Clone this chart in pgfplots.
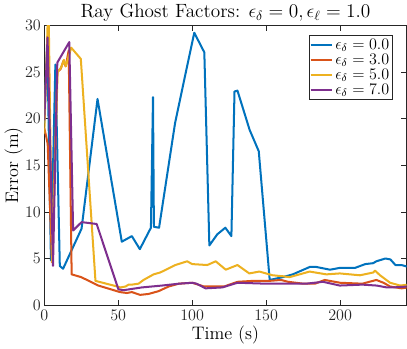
\documentclass[border=0pt]{standalone}
\usepackage{pgfplots}
\pgfplotsset{compat=1.18}
\definecolor{c1}{HTML}{0072BD}
\definecolor{c2}{HTML}{D95319}
\definecolor{c3}{HTML}{EDB120}
\definecolor{c4}{HTML}{7E2F8E}
\definecolor{axc}{rgb}{0.15,0.15,0.15}
\begin{document}
\begin{tikzpicture}
\begin{axis}[
  scale only axis,
  width=270pt, height=208.5pt,
  xmin=0, xmax=245, ymin=0, ymax=30,
  xtick={0,50,100,150,200}, ytick={0,5,10,15,20,25,30},
  tick align=inside, tick pos=both,
  major tick length=4pt,
  axis line style={axc, line width=0.5pt},
  tick style={axc, line width=0.5pt},
  ticklabel style={font=\fontsize{11.8}{13}\selectfont, text=axc},
  yticklabel style={xshift=1pt},
  xlabel={\fontsize{13.5}{15}\selectfont Time (s)},
  ylabel={\fontsize{13.5}{15}\selectfont Error (m)},
  xlabel style={yshift=3pt},
  ylabel style={yshift=-5pt},
  title={\fontsize{14.3}{16}\selectfont Ray Ghost Factors: $\epsilon_\delta = 0, \epsilon_\ell = 1.0$},
  title style={yshift=-7pt},
  legend style={at={(rel axis cs:0.962,0.965)}, anchor=north east, font=\fontsize{11.5}{13}\selectfont, draw=axc, line width=0.5pt, inner sep=0.5pt, row sep=-2pt},
  legend cell align=left,
  legend image code/.code={\draw[#1, line width=1.5pt] (0cm,0cm) -- (0.55cm,0cm);},
  every axis plot/.append style={line width=1.5pt, line join=round},
  clip=true,
]
\addplot[c1] coordinates {
(0,19.5) (2,28.3) (4.5,4.8) (7.5,25.8) (10.5,4.2) (12.7,3.9) (25.2,8.2) (36,22.1)
(52.4,6.8) (59.2,7.4) (64.6,6.0) (72.1,8.3) (73.5,22.3) (74.1,8.4) (77.6,8.3)
(88.4,19.5) (95.2,24.6) (101.4,29.2) (108.2,27.1) (111.6,6.4) (117,7.6) (122.4,8.3)
(126.5,7.4) (128.6,22.9) (130.6,23.0) (138.8,18.8) (145,16.5) (152.4,2.7) (161.2,3.0)
(168,3.3) (179.6,4.1) (183.7,4.1) (193.2,3.8) (200,4.0) (210.2,4.0) (217,4.4)
(222.4,4.5) (224.5,4.7) (230.6,5.0) (234,4.9) (237.4,4.3) (241.5,4.3) (246,4.1)
};
\addlegendentry{$\epsilon_\delta = 0.0$}
\addplot[c2] coordinates {
(0,19) (2.3,17.3) (5.2,4.6) (8.8,25.0) (11,25.3) (13,26.2) (14.5,25.6) (16.5,27.3)
(18.5,3.3) (25,3.0) (36.5,2.1) (51.2,1.4) (55.8,1.3) (59.2,1.4) (64.8,1.1) (70.5,1.2)
(77.3,1.5) (84.1,2.0) (91,2.3) (100,2.4) (108,2.0) (121.6,2.0) (130.6,2.5) (140.8,2.6)
(152.2,2.6) (160,2.7) (165,2.5) (175,2.3) (183,2.3) (189.6,2.7) (200,2.4) (215,2.3)
(224.5,2.7) (229.3,2.4) (233.8,2.0) (241.5,1.8) (246,1.9)
};
\addlegendentry{$\epsilon_\delta = 3.0$}
\addplot[c3] coordinates {
(0,18.4) (2.8,33) (5.3,4.6) (9,25.0) (11.5,25.5) (13.3,26.3) (14.5,25.6) (18.2,27.6)
(24.7,26.4) (34.6,2.6) (49.3,2.0) (51.5,1.9) (55,2.0) (57,2.2) (59.2,2.2) (63.7,2.3)
(67.1,2.7) (73.9,3.3) (78.4,3.5) (88.6,4.3) (96.6,4.7) (100,4.4) (110.2,4.3) (115.9,4.7)
(122.7,3.8) (130.6,4.3) (138.6,3.4) (145.4,3.6) (154.4,3.2) (161.2,3.1) (165.8,3.0)
(179.4,3.6) (190.7,3.3) (199.8,3.4) (213.4,3.2) (222.4,3.5) (223.6,3.7) (227,3.2)
(233.8,2.4) (240.6,2.1) (246,2.2)
};
\addlegendentry{$\epsilon_\delta = 5.0$}
\addplot[c4] coordinates {
(0,19.8) (2.2,28.7) (5.9,4.2) (8.8,26.0) (16.9,28.2) (19.5,8.0) (25.2,8.9) (35.4,8.7)
(50.1,1.7) (53.5,1.6) (66,1.9) (79.6,2.1) (91,2.3) (100,2.4) (103,2.3) (109,1.8)
(120.4,1.9) (130.6,2.4) (150,2.3) (160,2.3) (177,2.3) (188.4,2.5) (199.8,2.1) (215,2.2)
(224.7,2.1) (231.5,1.9) (236,1.9) (246,2.0)
};
\addlegendentry{$\epsilon_\delta = 7.0$}
\end{axis}
\end{tikzpicture}
\end{document}
